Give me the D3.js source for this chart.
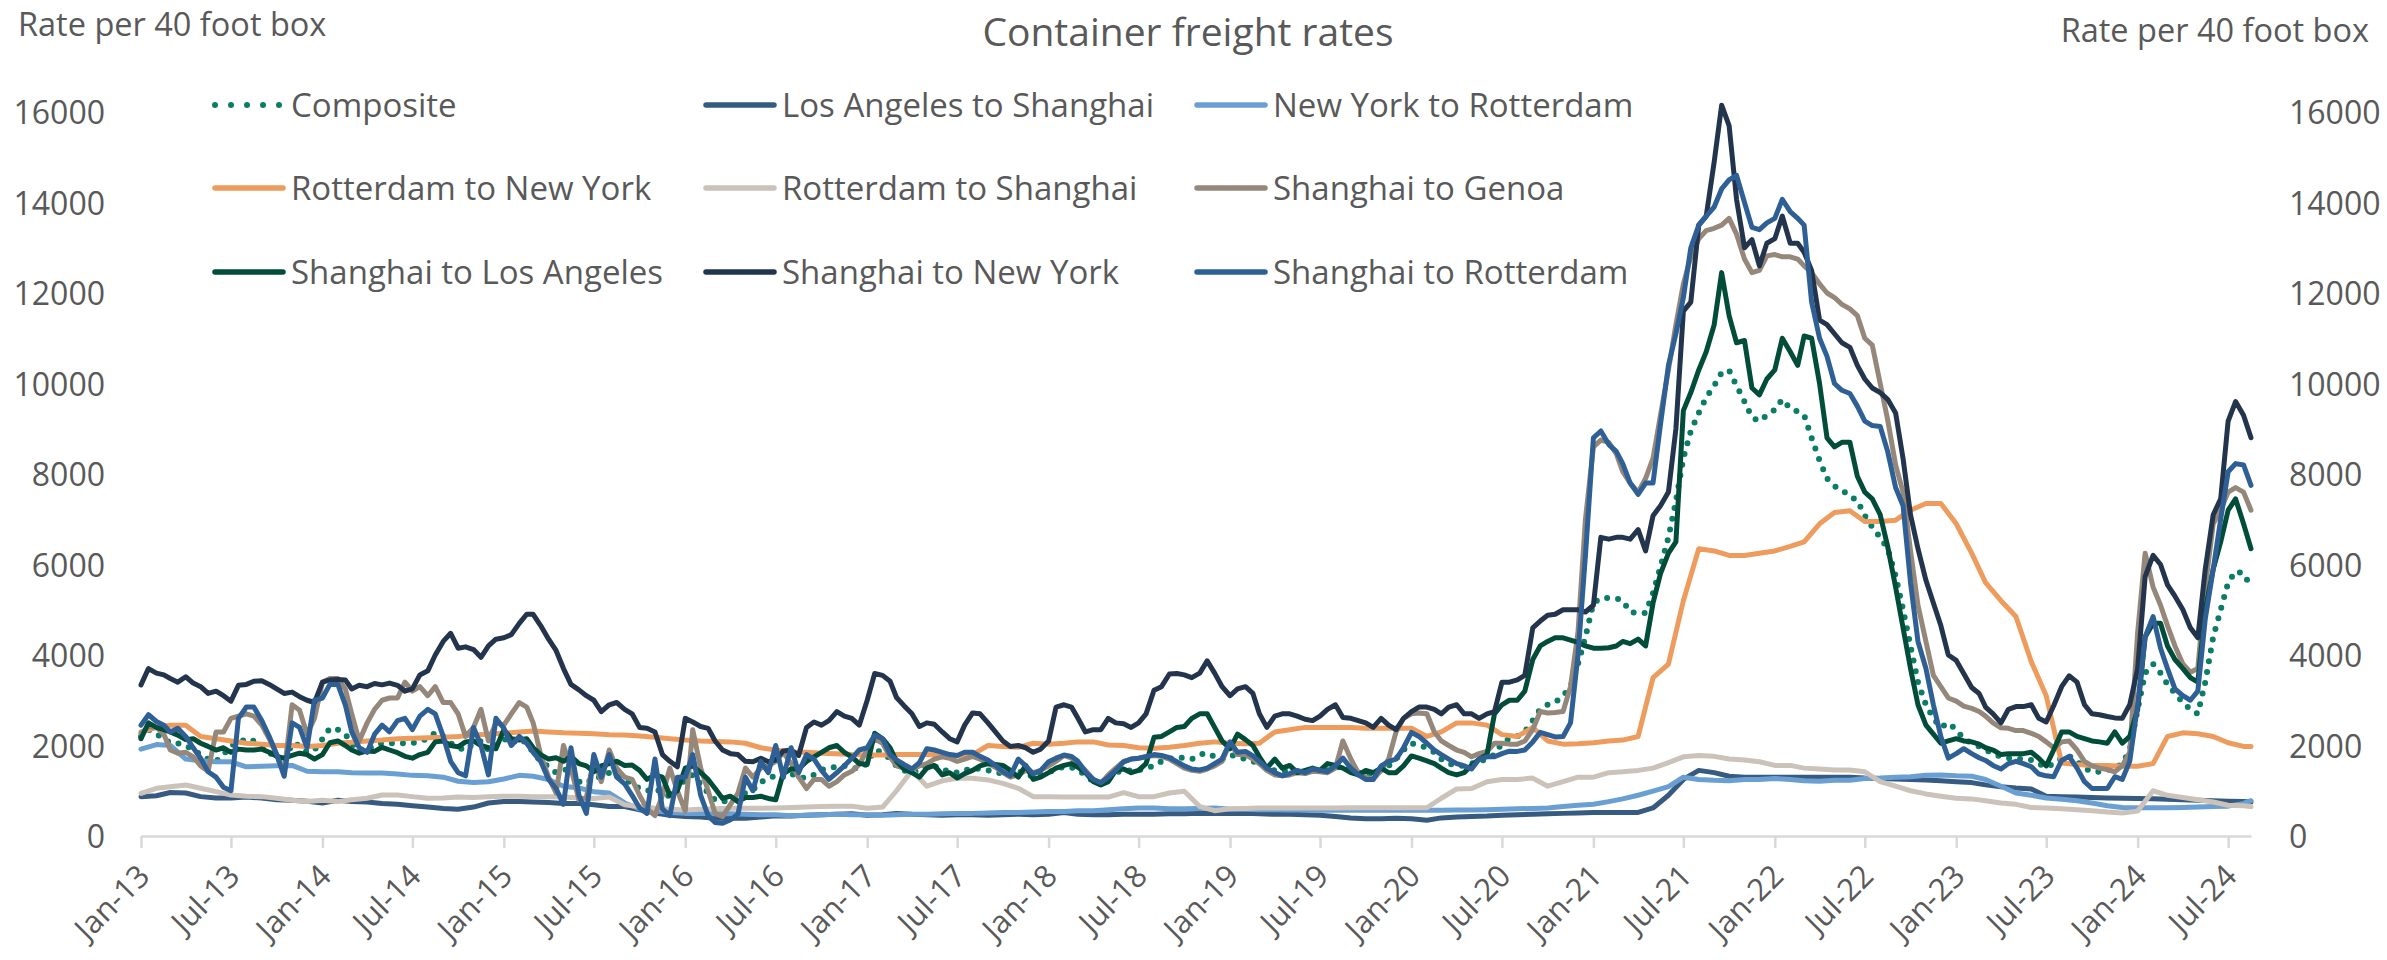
<!DOCTYPE html>
<html><head><meta charset="utf-8">
<script src="https://cdn.jsdelivr.net/npm/d3@7"></script>
<style>
body{margin:0;background:#fff;}
svg{display:block;}
text{font-family:"Open Sans",sans-serif;fill:#595959;}
</style>
</head><body>
<svg id="chart" width="2387" height="960"></svg>
<script>
// ---------- DATA ----------
// Semi-monthly series (1st and 16th of each month), Jan 2013 .. Aug 2024 (280 values)
const composite = [
2200,2350,2250,2150,2050,2050,2000,1900,1800,1700,1650,1800,2000,2050,2150,2100,2000,1850,1700,1600,2050,2000,1850,1900,
2140,2380,2350,2250,2050,1850,1900,2000,2050,2050,2050,2050,2050,2100,2150,2280,2200,2050,1950,1900,2050,2100,1900,2000,
2150,2050,2150,2050,1850,1650,1530,1400,1450,1500,1200,1160,1300,1300,1400,1350,1250,1150,1050,1000,1050,950,870,1050,
1250,1350,1150,950,800,760,800,850,950,1020,1200,1250,1350,1300,1380,1300,1280,1350,1460,1500,1530,1550,1500,1500,
1600,1900,1850,1700,1550,1450,1400,1450,1550,1550,1450,1450,1400,1450,1500,1480,1450,1400,1380,1350,1420,1400,1300,1350,
1400,1480,1530,1520,1450,1350,1200,1150,1250,1400,1450,1450,1450,1500,1550,1650,1700,1750,1720,1700,1800,1830,1750,1700,
1800,1750,1700,1650,1600,1500,1450,1450,1420,1450,1400,1450,1450,1450,1500,1550,1450,1400,1350,1380,1450,1550,1700,1900,
2050,2000,1950,1850,1700,1600,1550,1550,1600,1650,1700,1800,2050,2150,2200,2300,2550,2800,2900,2950,3100,3300,3800,4400,
5150,5250,5260,5250,5200,4950,4930,4930,5370,5950,6600,7400,8350,8950,9350,9690,9950,10240,10290,9950,9600,9250,9170,9300,
9420,9650,9450,9380,9300,8800,8300,7900,7730,7650,7500,7420,7080,6830,6600,6350,5750,5000,4200,3400,2900,2600,2400,2500,
2350,2150,2050,1980,1900,1820,1750,1720,1700,1700,1680,1600,1520,1600,1720,1770,1650,1500,1420,1420,1450,1500,1600,1900,
2800,3600,3800,3600,3350,3150,2950,2800,2700,3400,4400,5000,5600,5850,5800,5500];

const shanghaiGenoa = [
2270,2420,2400,2250,1900,1830,1850,1750,1550,1430,2300,2300,2600,2650,2700,2650,2450,2150,1800,1400,2900,2780,2250,2600,
3400,3480,3480,3250,2700,2100,2500,2800,3000,3050,3050,3400,3200,3300,3100,3300,2950,2950,2700,2200,2400,2800,2100,2500,
2450,2700,2950,2850,2500,1800,1300,950,2000,1500,800,850,1700,1200,1900,1500,1300,1250,900,600,450,900,1500,1000,
550,2350,1500,1000,500,430,700,950,1500,1300,1500,1550,1650,1850,1600,1300,1050,1250,1250,1100,1200,1350,1430,1580,
1900,2150,2050,1750,1550,1500,1480,1550,1600,1700,1750,1720,1650,1700,1760,1700,1600,1520,1400,1300,1350,1450,1400,1450,
1550,1650,1780,1720,1620,1450,1250,1150,1350,1500,1650,1700,1720,1760,1780,1760,1700,1600,1500,1450,1430,1480,1550,1650,
2050,1800,1800,1700,1600,1450,1350,1330,1350,1400,1380,1430,1420,1400,1500,2100,1700,1400,1300,1250,1450,1700,2300,2600,
2700,2720,2700,2300,2100,2000,1900,1850,1750,1820,1870,2050,2050,2030,2030,2100,2350,2750,2720,2730,2750,3300,4500,7000,
8600,8750,8700,8450,8050,7800,7600,7900,8350,9300,10300,11300,12200,12800,13200,13380,13430,13500,13650,13300,12750,12450,12500,12820,
12850,12800,12800,12750,12600,12450,12200,12000,11900,11750,11650,11500,11000,10850,10000,9200,8200,7600,6300,5100,4300,3550,3300,3050,
2980,2870,2820,2750,2650,2500,2390,2380,2330,2330,2270,2200,2080,1950,2080,2100,1900,1650,1550,1500,1470,1420,1550,1850,
4500,6250,5500,5100,4650,4200,3800,3620,3700,5500,6900,7200,7600,7700,7600,7200];

const shanghaiLosAngeles = [
2150,2500,2400,2350,2300,2230,2130,2150,2050,1980,1900,1950,1850,1920,1900,1900,1920,1850,1760,1720,1780,1830,1800,1700,
1800,2060,2100,2000,1900,1830,1880,1870,1960,1900,1840,1760,1720,1800,1850,2080,2100,2000,1970,2080,2100,2000,1950,1930,
2350,2150,2120,2150,1950,1800,1700,1730,1650,1760,1600,1550,1420,1550,1600,1650,1560,1570,1450,1250,1350,1300,900,1000,
1500,1550,1400,1250,1050,830,880,760,850,850,880,830,800,1380,1480,1480,1650,1750,1850,1950,2000,1850,1750,1600,
1580,2270,2150,1950,1650,1480,1400,1300,1500,1560,1350,1400,1280,1380,1450,1550,1600,1580,1560,1450,1300,1560,1250,1300,
1400,1500,1560,1600,1520,1400,1200,1130,1200,1450,1480,1400,1450,1600,2180,2200,2300,2400,2420,2600,2700,2700,2400,2100,
1930,2250,2130,2000,1750,1500,1700,1500,1560,1400,1450,1500,1450,1600,1560,1500,1400,1350,1450,1400,1500,1400,1400,1550,
1770,1720,1660,1600,1500,1400,1350,1400,1560,1700,1800,2700,2900,3000,3000,3200,3900,4200,4300,4380,4380,4330,4280,4200,
4150,4150,4160,4200,4300,4250,4350,4200,5150,5800,6250,6500,9400,9800,10300,10700,11300,12450,11500,10900,10950,9900,9750,10100,
10300,11000,10700,10400,11050,11000,10000,8800,8600,8700,8700,7950,7600,7450,7100,6400,5500,4600,3700,2900,2450,2250,2050,2100,
2150,2100,2080,2030,1950,1900,1800,1820,1820,1820,1850,1720,1550,1900,2300,2300,2200,2150,2100,2080,2050,2300,2050,2200,
2800,4400,4700,4700,4200,3900,3700,3500,3400,5000,5900,6500,7200,7450,6900,6350];

const shanghaiNewYork = [
3340,3700,3600,3560,3480,3400,3520,3380,3300,3150,3200,3100,2980,3330,3350,3420,3430,3350,3250,3150,3180,3080,3000,2950,
3400,3450,3460,3450,3250,3330,3300,3370,3340,3380,3330,3200,3250,3560,3650,4000,4300,4480,4150,4180,4120,3950,4200,4350,
4380,4450,4700,4900,4900,4650,4350,4100,3700,3350,3230,3100,3000,2750,2900,2950,2800,2700,2400,2380,2300,1800,1650,1530,
2600,2520,2420,2380,2100,1900,1820,1800,1650,1640,1720,1640,1680,1880,1900,1780,2400,2520,2450,2550,2750,2650,2600,2450,
3000,3590,3550,3420,3060,2880,2700,2420,2500,2470,2300,2150,2080,2450,2720,2700,2500,2300,2100,1980,2000,1950,1850,1920,
2100,2850,2900,2850,2600,2300,2350,2350,2600,2500,2480,2400,2500,2700,3220,3300,3580,3590,3560,3500,3600,3870,3600,3300,
3100,3250,3300,3150,2700,2400,2650,2700,2700,2650,2580,2550,2650,2800,2900,2620,2600,2550,2500,2400,2600,2450,2350,2600,
2750,2850,2850,2800,2700,2850,2900,2700,2700,2600,2700,2750,3400,3400,3450,3550,4600,4750,4880,4900,5000,5000,5000,4950,
5100,6600,6560,6600,6600,6560,6770,6300,7080,7300,7600,9000,11600,11800,13500,13700,14900,16150,15700,14070,13000,13180,12600,13100,
13200,13700,13100,13100,12900,12500,11400,11300,11100,10900,10800,10400,10100,9900,9800,9650,9350,8340,7100,6350,5650,5150,4650,4000,
3880,3590,3280,3150,2850,2700,2500,2800,2860,2860,2900,2600,2520,2880,3300,3540,3400,2900,2700,2680,2640,2610,2600,2900,
3700,5730,6200,6000,5550,5300,5000,4600,4380,5900,7100,7450,9170,9600,9300,8800];

const shanghaiRotterdam = [
2450,2680,2530,2450,2300,2380,2200,1950,1720,1420,1300,1080,1000,2600,2850,2850,2550,2200,1800,1320,2500,2400,1950,3000,
3050,3350,3350,2900,2300,1950,1850,2250,2450,2300,2550,2600,2350,2650,2800,2700,2200,1650,1400,1330,2400,2000,1350,2600,
2380,2000,2200,2050,1850,1650,1250,1050,700,1950,900,500,1800,1300,1800,1300,1150,900,620,500,1700,600,450,1300,
1300,1800,900,450,300,280,360,480,1300,1000,1650,1400,2000,1300,1950,1400,1800,1700,1450,1250,1400,1550,1720,1900,
1950,2230,2150,1800,1680,1580,1480,1620,1930,1900,1850,1800,1780,1850,1850,1760,1680,1560,1420,1330,1700,1550,1370,1450,
1640,1720,1790,1760,1650,1420,1250,1180,1300,1450,1640,1700,1720,1750,1800,1780,1730,1640,1550,1480,1460,1500,1600,1700,
2080,1850,1870,1770,1650,1500,1400,1330,1380,1450,1400,1480,1450,1420,1550,1720,1500,1350,1250,1250,1550,1650,1700,1950,
2290,2200,2050,1900,1800,1700,1600,1550,1480,1700,1750,1750,1820,1875,1870,1900,2080,2290,2240,2190,2200,2500,4000,6200,
8800,8950,8650,8500,8230,7800,7550,7800,7800,9100,10400,11100,11900,13000,13500,13700,13900,14300,14500,14600,14000,13450,13400,13550,
13650,14070,13800,13650,13500,11800,11000,10600,10000,9850,9780,9500,9170,9070,9050,8500,7700,7300,5600,4300,3700,2900,2200,1720,
1820,1930,1820,1730,1670,1560,1480,1600,1650,1600,1530,1370,1330,1310,1670,1760,1500,1200,1050,1050,1050,1310,1250,1650,
2900,4400,4850,4150,3700,3250,3100,3000,3200,4800,5900,7000,8050,8230,8200,7750];

// Monthly series (1st of each month), Jan 2013 .. Aug 2024, plus last reading (141 values)
const losAngelesShanghai = [
870,890,960,950,870,840,840,860,840,800,790,770,
730,790,760,750,720,700,670,640,610,590,640,730,
760,760,750,740,720,720,690,650,650,580,510,460,
430,420,390,390,390,420,450,440,460,470,480,490,
460,470,500,480,470,460,470,470,460,470,480,470,
480,520,480,470,470,480,480,480,490,490,500,500,
500,500,490,480,480,470,460,430,400,380,380,390,
380,350,400,420,430,440,460,470,480,490,500,510,
520,520,520,520,620,900,1250,1450,1400,1320,1300,1300,
1300,1300,1300,1300,1300,1300,1280,1270,1260,1250,1240,1220,
1200,1180,1130,1090,1060,1040,880,870,860,850,840,835,
830,825,810,800,790,780,770,760,750];

const newYorkRotterdam = [
1920,2020,2000,1700,1660,1640,1640,1530,1540,1550,1560,1430,
1420,1420,1400,1390,1390,1370,1340,1330,1300,1210,1180,1200,
1260,1340,1320,1250,1100,1060,980,950,730,600,560,520,
500,500,490,490,480,470,470,450,460,470,480,470,
470,460,470,480,480,490,500,500,510,520,520,530,
540,540,560,560,580,600,620,620,600,600,610,620,
590,590,580,580,575,575,570,570,570,570,570,570,
570,570,570,575,575,580,590,600,610,620,650,680,
700,760,820,900,990,1090,1300,1250,1230,1220,1250,1250,
1270,1250,1220,1210,1230,1230,1270,1280,1300,1310,1340,1350,
1330,1320,1250,1100,950,900,840,810,780,730,670,630,
625,625,625,630,640,650,660,720,780];

const rotterdamNewYork = [
2300,2400,2450,2450,2200,2150,2100,2050,2030,2000,2000,1980,
2000,2050,2070,2100,2120,2150,2160,2170,2180,2200,2230,2250,
2270,2300,2320,2300,2280,2270,2260,2240,2230,2210,2180,2150,
2120,2100,2090,2080,2050,1950,1900,1850,1850,1830,1820,1800,
1790,1790,1800,1800,1800,1790,1780,1800,2000,1980,1960,2050,
2030,2050,2080,2080,2010,2000,1950,1940,1960,2000,2050,2080,
2050,2040,2050,2300,2350,2400,2400,2400,2400,2380,2380,2380,
2380,2200,2300,2500,2500,2450,2240,2200,2400,2100,2030,2040,
2060,2100,2120,2200,3500,3800,5200,6350,6300,6200,6200,6250,
6300,6400,6500,6900,7150,7190,6950,6950,6980,7200,7350,7350,
6900,6250,5600,5200,4850,3850,3100,1615,1580,1560,1560,1540,
1540,1600,2200,2280,2260,2200,2060,1980,1980];

const rotterdamShanghai = [
943,1054,1090,1128,1054,980,906,880,870,833,790,760,
790,760,800,833,906,906,870,833,840,860,850,870,
880,880,870,870,860,840,830,860,690,650,612,590,
575,590,600,612,612,612,620,630,640,650,660,660,
612,640,1000,1450,1100,1220,1275,1275,1240,1164,1054,870,
870,860,860,860,860,960,870,870,950,990,650,560,
600,610,620,620,620,620,620,620,625,625,625,625,
625,625,834,1040,1050,1200,1250,1250,1280,1100,1200,1300,
1300,1400,1420,1450,1500,1620,1750,1780,1760,1700,1680,1640,
1560,1560,1500,1480,1460,1460,1420,1200,1100,1000,930,880,
834,820,780,730,700,630,620,600,580,560,530,510,
550,1000,900,850,800,750,680,670,650];

const seriesNames = ["Composite","Los Angeles to Shanghai","New York to Rotterdam",
  "Rotterdam to New York","Rotterdam to Shanghai","Shanghai to Genoa",
  "Shanghai to Los Angeles","Shanghai to New York","Shanghai to Rotterdam"];
const seriesColors = ["#0b7d66","#375b80","#6a9fd4","#ee9c5e","#cbc2ba","#958779","#024d39","#23344d","#2e6096"];
const seriesValues = [composite,losAngelesShanghai,newYorkRotterdam,rotterdamNewYork,rotterdamShanghai,
  shanghaiGenoa,shanghaiLosAngeles,shanghaiNewYork,shanghaiRotterdam];
const seriesStep = [1,2,2,2,2,1,1,1,1]; // in half-months

const yTicks = [0,2000,4000,6000,8000,10000,12000,14000,16000];
const xTickLabels = ["Jan-13","Jul-13","Jan-14","Jul-14","Jan-15","Jul-15","Jan-16","Jul-16","Jan-17","Jul-17",
  "Jan-18","Jul-18","Jan-19","Jul-19","Jan-20","Jul-20","Jan-21","Jul-21","Jan-22","Jul-22","Jan-23","Jul-23","Jan-24","Jul-24"];

// ---------- CHART ----------
const LAST = 279;
function halfMonth(k){ return new Date(2013, Math.floor(k/2), (k%2) ? 16 : 1); }
const parseTick = d3.timeParse("%b-%y");
const xTickDates = xTickLabels.map(s => parseTick(s));

const svg = d3.select("#chart");
const x = d3.scaleTime().domain([halfMonth(0), halfMonth(LAST)]).range([141, 2251]);
const y = d3.scaleLinear().domain([0,16000]).range([836,112]);

// X axis
const xAxis = d3.axisBottom(x).tickValues(xTickDates).tickSize(12).tickSizeOuter(0)
  .tickFormat((d,i) => xTickLabels[i]);
const gx = svg.append("g").attr("transform","translate(0,836)").call(xAxis);
gx.select(".domain").attr("stroke","#d9d9d9").attr("stroke-width",2.5);
gx.selectAll(".tick line").attr("stroke","#d9d9d9").attr("stroke-width",2.5);
gx.selectAll(".tick text")
  .attr("y",0).attr("x",0).attr("dy",0)
  .attr("text-anchor","end")
  .attr("transform","translate(10,42) rotate(-45)")
  .style("font-family","'Open Sans',sans-serif").style("font-size","31px").attr("fill","#595959");

// Y axes
const yl = svg.append("g").attr("transform","translate(105,0)")
  .call(d3.axisLeft(y).tickValues(yTicks).tickSize(0).tickPadding(0).tickFormat(d3.format("d")));
const yr = svg.append("g").attr("transform","translate(2289,0)")
  .call(d3.axisRight(y).tickValues(yTicks).tickSize(0).tickPadding(0).tickFormat(d3.format("d")));
[yl,yr].forEach(g=>{
  g.select(".domain").remove();
  g.selectAll("text").style("font-family","'Open Sans',sans-serif").style("font-size","32px")
    .attr("fill","#595959").attr("dy","0.36em");
});

// Lines
const line = d3.line().x(d => x(d.date)).y(d => y(d.value));
seriesValues.forEach((vals, si) => {
  const step = seriesStep[si];
  const data = vals.map((v,j) => ({date: halfMonth(Math.min(j*step, LAST)), value: v}));
  const p = svg.append("path").datum(data)
    .attr("fill","none").attr("stroke",seriesColors[si])
    .attr("stroke-linejoin","round")
    .attr("d", line);
  if (si === 0) {
    p.attr("stroke-width",6).attr("stroke-linecap","round").attr("stroke-dasharray","0 11");
  } else {
    p.attr("stroke-width",5).attr("stroke-linecap","round");
  }
});

// Legend
const legCols = [213, 704, 1195];
const legRows = [105, 188, 272];
seriesNames.forEach((name, i) => {
  const cx = legCols[i % 3], cy = legRows[Math.floor(i/3)];
  const g = svg.append("g");
  const l = g.append("line").attr("x1",cx+2).attr("x2",cx+70).attr("y1",cy).attr("y2",cy)
    .attr("stroke",seriesColors[i]).attr("stroke-linecap","round");
  if (i===0) l.attr("stroke-width",6).attr("stroke-dasharray","0 16");
  else l.attr("stroke-width",5.5);
  g.append("text").attr("x",cx+78).attr("y",cy).attr("dy","0.36em")
    .style("font-size","33px").text(name);
});

// Titles
svg.append("text").attr("x",1188).attr("y",46).attr("text-anchor","middle")
  .style("font-size","39px").text("Container freight rates");
svg.append("text").attr("x",18).attr("y",36).style("font-size","32.5px").text("Rate per 40 foot box");
svg.append("text").attr("x",2369).attr("y",42).attr("text-anchor","end").style("font-size","32.5px").text("Rate per 40 foot box");
</script>
</body></html>
